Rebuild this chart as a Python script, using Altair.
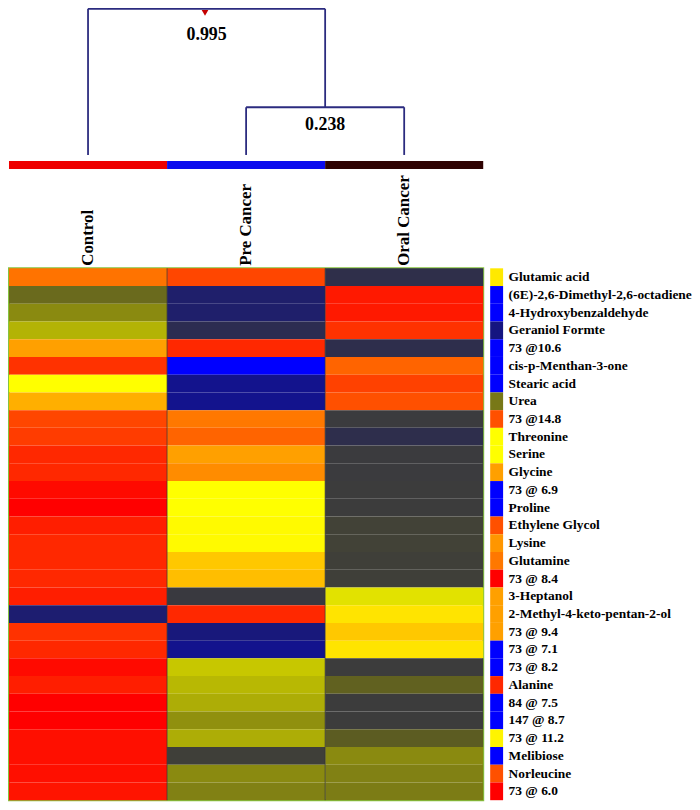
import altair as alt
import pandas as pd

# ---------------- data ----------------
groups = ["Control", "Pre Cancer", "Oral Cancer"]
group_bar_colors = ["#ee0000", "#0b0bee", "#2e0202"]

# dendrogram: Pre Cancer + Oral Cancer join at 0.238, then Control at 0.995
merge_heights = [0.238, 0.995]
merge_labels = ["0.238", "0.995"]
cut_marker_pos = 1.24  # position of the red marker on the top link (column units)

metabolites = [
    "Glutamic acid", "(6E)-2,6-Dimethyl-2,6-octadiene", "4-Hydroxybenzaldehyde",
    "Geraniol Formte", "73 @10.6", "cis-p-Menthan-3-one", "Stearic acid", "Urea",
    "73 @14.8", "Threonine", "Serine", "Glycine", "73 @ 6.9", "Proline",
    "Ethylene Glycol", "Lysine", "Glutamine", "73 @ 8.4", "3-Heptanol",
    "2-Methyl-4-keto-pentan-2-ol", "73 @ 9.4", "73 @ 7.1", "73 @ 8.2", "Alanine",
    "84 @ 7.5", "147 @ 8.7", "73 @ 11.2", "Melibiose", "Norleucine", "73 @ 6.0",
]

# colour level of each cell (0 = blue/low ... 12 = red/high)
control = [9.7, 4.3, 5.0, 5.7, 8.8, 11.0, 7.0, 8.5, 10.6, 10.8,
           11.2, 11.2, 11.8, 12.0, 11.4, 11.2, 11.2, 11.2, 11.4, 1.3,
           11.0, 11.2, 11.8, 11.4, 12.0, 12.0, 11.7, 11.7, 11.7, 11.6]
pre_cancer = [10.6, 1.4, 1.4, 1.9, 11.2, 0.0, 0.9, 0.9, 9.6, 10.0,
              8.8, 9.2, 7.0, 7.0, 7.1, 7.1, 8.0, 8.2, 2.8, 11.2,
              1.1, 0.9, 6.05, 5.8, 5.6, 5.1, 5.6, 3.1, 5.0, 4.8]
oral_cancer = [2.1, 11.5, 11.5, 11.0, 2.0, 10.0, 10.7, 10.4, 2.9, 2.0,
               2.9, 2.9, 3.0, 3.0, 3.2, 3.2, 3.1, 3.1, 6.5, 7.5,
               8.0, 7.5, 3.0, 4.1, 3.0, 3.0, 4.0, 5.0, 4.8, 4.7]
side_strip = [7.4, 0, 0, 1, 0, 0, 0, 4.6, 10.4, 7.0,
              7.0, 8.8, 0, 0, 10.4, 9.0, 9.6, 12, 8.8, 8.8,
              8.8, 0, 0, 11.2, 0, 0, 7.2, 0, 10.4, 12]

level_stops = list(range(13))
level_colors = ["#0000ff", "#151580", "#2e2e4c", "#3c3c3c", "#5c5c22", "#8a8a10",
                "#c4c400", "#ffff00", "#ffc800", "#ff9600", "#ff6400", "#ff3200", "#ff0000"]

# ---------------- tables ----------------
leaf = {g: i + 0.5 for i, g in enumerate(groups)}
h1, h2 = merge_heights
m1_center = (leaf["Pre Cancer"] + leaf["Oral Cancer"]) / 2
segs = pd.DataFrame([
    dict(x=leaf["Pre Cancer"], y=0, x2=leaf["Pre Cancer"], y2=h1),
    dict(x=leaf["Oral Cancer"], y=0, x2=leaf["Oral Cancer"], y2=h1),
    dict(x=leaf["Pre Cancer"], y=h1, x2=leaf["Oral Cancer"], y2=h1),
    dict(x=m1_center, y=h1, x2=m1_center, y2=h2),
    dict(x=leaf["Control"], y=0, x2=leaf["Control"], y2=h2),
    dict(x=leaf["Control"], y=h2, x2=m1_center, y2=h2),
])
merge_text = pd.DataFrame({
    "x": [m1_center, (leaf["Control"] + m1_center) / 2],
    "y": merge_heights,
    "label": merge_labels,
})
marker = pd.DataFrame({"x": [cut_marker_pos], "y": [h2]})

bar_df = pd.DataFrame({"group": groups,
                       "start": [i for i in range(len(groups))],
                       "end": [i + 1 for i in range(len(groups))]})

rows = []
for g, vals in zip(groups, [control, pre_cancer, oral_cancer]):
    for m, v in zip(metabolites, vals):
        rows.append({"metabolite": m, "group": g, "level": v})
heat_df = pd.DataFrame(rows)
strip_df = pd.DataFrame({"metabolite": metabolites, "level": side_strip, "k": "s"})
div_df = pd.DataFrame({"group": groups[1:]})

# ---------------- chart ----------------
SERIF = "Liberation Serif"
W = 477
DH = 147
LINE = "#2b2b7f"

xq = alt.Scale(domain=[0, 3], nice=False, zero=False)
yd = alt.Scale(domain=[0, h1, h2], range=[DH, DH - 48, 0], nice=False, zero=False)

lines = alt.Chart(segs).mark_rule(color=LINE, strokeWidth=1.8, strokeJoin="round").encode(
    x=alt.X("x:Q", scale=xq, axis=None),
    y=alt.Y("y:Q", scale=yd, axis=None),
    x2="x2:Q", y2="y2:Q",
)
label_dy = [18, 26]
text_layers = []
for i in range(len(merge_labels)):
    text_layers.append(
        alt.Chart(merge_text.iloc[[i]]).mark_text(
            font=SERIF, fontWeight="bold", fontSize=18, dy=label_dy[i], color="black"
        ).encode(x=alt.X("x:Q", scale=xq, axis=None), y=alt.Y("y:Q", scale=yd, axis=None), text="label:N")
    )
tri = alt.Chart(marker).mark_point(
    shape="triangle-down", filled=True, color="#c40000", size=45, yOffset=4, opacity=1
).encode(x=alt.X("x:Q", scale=xq, axis=None), y=alt.Y("y:Q", scale=yd, axis=None))
dendro = alt.layer(lines, *text_layers, tri).properties(width=W, height=DH)

bar = alt.Chart(bar_df).mark_rect().encode(
    x=alt.X("start:Q", scale=xq, axis=None),
    x2="end:Q",
    color=alt.Color("group:N", scale=alt.Scale(domain=groups, range=group_bar_colors), legend=None),
).properties(width=W, height=8)

color_scale = alt.Scale(domain=level_stops, range=level_colors, interpolate="rgb", zero=False, nice=False)
band = alt.Scale(paddingInner=0, paddingOuter=0)

cells = alt.Chart(heat_df).mark_rect().encode(
    x=alt.X("group:N", sort=groups, scale=band, title=None,
            axis=alt.Axis(orient="top", labelAngle=270, labelAlign="left", labelBaseline="middle",
                          labelFont=SERIF, labelFontWeight="bold", labelFontSize=17,
                          labelColor="black", labelPadding=3, ticks=False, domain=False,
                          minExtent=95, maxExtent=95)),
    y=alt.Y("metabolite:N", sort=metabolites, scale=band, axis=None),
    color=alt.Color("level:Q", scale=color_scale, legend=None),
)
dividers = alt.Chart(div_df).mark_rule(color="#333333", strokeWidth=1, opacity=0.7).encode(
    x=alt.X("group:N", sort=groups, scale=band, bandPosition=0, title=None)
)
heat = alt.layer(cells, dividers).properties(
    width=W, height=535, view=alt.ViewBackground(stroke="#86c440", strokeWidth=2)
)

strip = alt.Chart(strip_df).mark_rect().encode(
    x=alt.X("k:N", scale=band, axis=None),
    y=alt.Y("metabolite:N", sort=metabolites, scale=band, title=None,
            axis=alt.Axis(orient="right", labelFont=SERIF, labelFontWeight="bold", labelFontSize=13.5,
                          labelColor="black", labelPadding=5, ticks=False, domain=False, labelLimit=300)),
    color=alt.Color("level:Q", scale=color_scale, legend=None),
).properties(width=13, height=535)

row = alt.hconcat(heat, strip, spacing=5)
chart = alt.vconcat(dendro, bar, row, spacing=3).properties(
    padding={"top": -3.5, "left": 0, "right": 0, "bottom": 0}, background="white"
).configure_view(stroke="transparent")

chart.save("out.html", embed_options={"renderer": "svg", "actions": False})
